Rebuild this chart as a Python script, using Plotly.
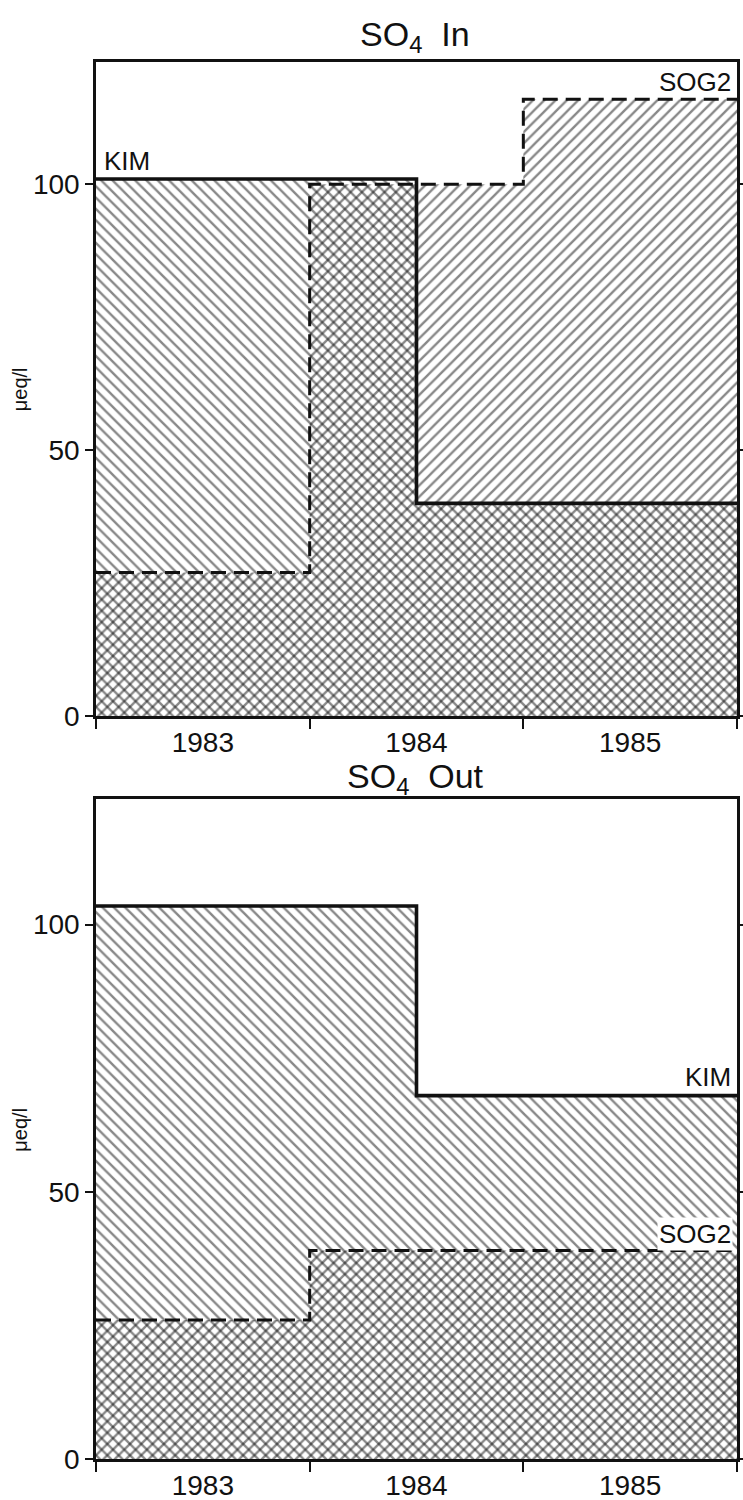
import plotly.graph_objects as go

# ---- data ----
year_labels = ["1983", "1984", "1985"]
year_centers = [1983.5, 1984.5, 1985.5]
year_bounds = [1983.0, 1984.0, 1985.0, 1986.0]
x_end = 1986.0

# SO4 In
kim_in_start = [1983.0, 1984.5]
kim_in = [101, 40]
sog2_in_start = [1983.0, 1984.0, 1985.0]
sog2_in = [27, 100, 116]

# SO4 Out
kim_out_start = [1983.0, 1984.5]
kim_out = [103.5, 68]
sog2_out_start = [1983.0, 1984.0, 1985.0]
sog2_out = [26, 39, 39]

y_ticks = [0, 50, 100]
titles = ["SO<sub>4</sub>  In", "SO<sub>4</sub>  Out"]
y_unit = "μeq/l"

FONT = "Liberation Sans"
INK = "#111111"


def steps(starts, vals):
    return list(starts) + [x_end], list(vals) + [vals[-1]]


fig = go.Figure()

panels = [
    (kim_in_start, kim_in, sog2_in_start, sog2_in, "x", "y"),
    (kim_out_start, kim_out, sog2_out_start, sog2_out, "x2", "y2"),
]

for ks, kv, ss, sv, xa, ya in panels:
    kx, ky = steps(ks, kv)
    sx, sy = steps(ss, sv)
    # hatched fills
    fig.add_trace(go.Scatter(
        x=kx, y=ky, xaxis=xa, yaxis=ya, mode="lines", line_shape="hv",
        line=dict(width=0, color="rgba(0,0,0,0)"), fill="tozeroy",
        fillcolor="rgba(0,0,0,0)",
        fillpattern=dict(shape="\\", fgcolor=INK, bgcolor="rgba(0,0,0,0)",
                         size=8, solidity=0.3),
        hoverinfo="skip", showlegend=False))
    fig.add_trace(go.Scatter(
        x=sx, y=sy, xaxis=xa, yaxis=ya, mode="lines", line_shape="hv",
        line=dict(width=0, color="rgba(0,0,0,0)"), fill="tozeroy",
        fillcolor="rgba(0,0,0,0)",
        fillpattern=dict(shape="/", fgcolor=INK, bgcolor="rgba(0,0,0,0)",
                         size=8, solidity=0.3),
        hoverinfo="skip", showlegend=False))
    # outlines
    fig.add_trace(go.Scatter(
        x=sx, y=sy, xaxis=xa, yaxis=ya, mode="lines", line_shape="hv",
        line=dict(width=3, color=INK, dash="15px,8px"),
        showlegend=False))
    fig.add_trace(go.Scatter(
        x=kx, y=ky, xaxis=xa, yaxis=ya, mode="lines", line_shape="hv",
        line=dict(width=3.6, color=INK), showlegend=False))

xcommon = dict(
    range=[1983.0, 1986.0], showline=True, linecolor=INK, linewidth=2.5,
    mirror=True, showgrid=False, zeroline=False, automargin=False,
    tickmode="array", tickvals=year_centers, ticktext=year_labels, ticks="",
    tickfont=dict(family=FONT, size=28, color=INK),
    minor=dict(tickmode="array", tickvals=year_bounds, ticks="outside",
               ticklen=10, tickwidth=2, tickcolor=INK, showgrid=False),
)
ycommon = dict(
    showline=True, linecolor=INK, linewidth=2.5, mirror="ticks",
    showgrid=False, zeroline=False, automargin=False,
    tickmode="array", tickvals=y_ticks,
    ticks="outside", ticklen=8, tickwidth=2, tickcolor=INK,
    tickfont=dict(family=FONT, size=28, color=INK),
)

fig.update_layout(
    width=743, height=1500, autosize=False,
    margin=dict(l=96, r=6, t=62, b=41, autoexpand=False),
    paper_bgcolor="white", plot_bgcolor="white",
    showlegend=False,
    xaxis=dict(**xcommon, anchor="y", domain=[0, 1]),
    yaxis=dict(**ycommon, range=[0, 123], domain=[0.5318, 1], anchor="x"),
    xaxis2=dict(**xcommon, anchor="y2", domain=[0, 1]),
    yaxis2=dict(**ycommon, range=[0, 123.5], domain=[0, 0.4724], anchor="x2"),
)

tf = dict(family=FONT, size=34, color=INK)
lf = dict(family=FONT, size=26, color=INK)
uf = dict(family=FONT, size=20, color=INK)
ann = [
    dict(text=titles[0], xref="paper", yref="paper", x=0.498, y=1.0,
         yshift=2, xanchor="center", yanchor="bottom", showarrow=False, font=tf),
    dict(text=titles[1], xref="paper", yref="paper", x=0.498, y=0.4724,
         yshift=-3, xanchor="center", yanchor="bottom", showarrow=False, font=tf),
    dict(text=y_unit, xref="paper", yref="paper", x=-0.118, y=0.766,
         textangle=-90, xanchor="center", yanchor="middle", showarrow=False,
         font=uf),
    dict(text=y_unit, xref="paper", yref="paper", x=-0.118, y=0.236,
         textangle=-90, xanchor="center", yanchor="middle", showarrow=False,
         font=uf),
    # series labels
    dict(text="KIM", xref="x", yref="y", x=kim_in_start[0], y=kim_in[0],
         xanchor="left", yanchor="bottom", xshift=6, yshift=1,
         showarrow=False, font=lf),
    dict(text="SOG2", xref="x", yref="y", x=x_end, y=sog2_in[-1],
         xanchor="right", yanchor="bottom", xshift=-4, yshift=0,
         showarrow=False, font=lf),
    dict(text="KIM", xref="x2", yref="y2", x=x_end, y=kim_out[-1],
         xanchor="right", yanchor="bottom", xshift=-4, yshift=2,
         showarrow=False, font=lf),
    dict(text="SOG2", xref="x2", yref="y2", x=x_end, y=sog2_out[-1],
         xanchor="right", yanchor="bottom", xshift=-4, yshift=0,
         showarrow=False, font=lf, bgcolor="white"),
]
fig.update_layout(annotations=ann)

fig.write_html(
    "out.html",
    config={"displayModeBar": False, "responsive": False},
    post_script=("document.documentElement.style.margin='0px';"
                 "document.body.style.margin='0px';"
                 "document.body.style.overflow='hidden';"),
)
